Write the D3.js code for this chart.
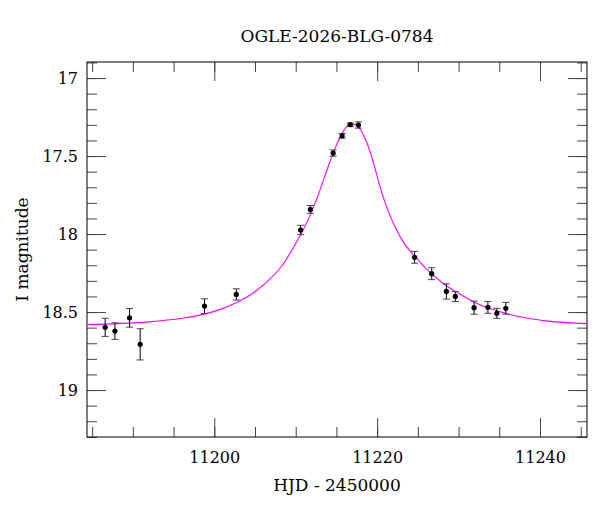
<!DOCTYPE html>
<html>
  <head>
    <meta charset="UTF-8">
    <script src="https://cdn.jsdelivr.net/npm/d3@7"></script>
    <title>OGLE-2026-BLG-0784</title>
    <style>
      body { margin: 0; background: #fff; }
      text { font-family: "DejaVu Serif", serif; fill: #000; }
    </style>
  </head>
  <body>
    <svg id="chart" width="600" height="512"></svg>
  <script>
      // photometry
      var hjd = [11186.6, 11187.8, 11189.6, 11190.9, 11198.8, 11202.7,
                 11210.6, 11211.8, 11214.6, 11215.7, 11216.7, 11217.7,
                 11224.6, 11226.7, 11228.5, 11229.6, 11231.9, 11233.6, 11234.7, 11235.8];
      var mag = [18.598, 18.622, 18.537, 18.707, 18.462, 18.387,
                 17.974, 17.842, 17.481, 17.370, 17.299, 17.301,
                 18.149, 18.254, 18.368, 18.400, 18.472, 18.470, 18.508, 18.476];
      var magErr = [0.058, 0.053, 0.060, 0.100, 0.047, 0.036,
                    0.030, 0.025, 0.020, 0.015, 0.010, 0.020,
                    0.038, 0.038, 0.049, 0.032, 0.042, 0.038, 0.032, 0.038];

      // model curve
      var modelT = [11184.4, 11188, 11192, 11196, 11199, 11201, 11203, 11205,
                    11207, 11208.5, 11210, 11211, 11212, 11213, 11214, 11215,
                    11215.8, 11216.4, 11216.9, 11217.4, 11218, 11218.7, 11219.5, 11220.4,
                    11221.3, 11222.3, 11223.3, 11224.5, 11226, 11228, 11230, 11232,
                    11234.7, 11238, 11241, 11245.8];
      var modelMag = [18.580, 18.574, 18.563, 18.540, 18.510, 18.478, 18.433, 18.370,
                      18.280, 18.190, 18.060, 17.965, 17.850, 17.715, 17.565, 17.430,
                      17.345, 17.305, 17.295, 17.300, 17.335, 17.410, 17.535, 17.705,
                      17.845, 17.965, 18.060, 18.135, 18.220, 18.312, 18.380, 18.438,
                      18.492, 18.535, 18.558, 18.574];

      var xMajor = [11200, 11220, 11240];
      var xMinor = d3.range(11185, 11246, 5);
      var yMajor = [17, 17.5, 18, 18.5, 19];
      var yMinor = d3.range(16.9, 19.31, 0.1).map(function(d){ return +d.toFixed(1); });

      var pL = 87, pR = 587, pT = 62, pB = 437;
      var svg = d3.select("#chart");

      var x = d3.scaleLinear().domain([11184.37, 11245.77]).range([pL, pR]);
      var y = d3.scaleLinear().domain([16.897, 19.301]).range([pT, pB]);

      function styleTicks(g, col){
          g.select(".domain").remove();
          g.selectAll(".tick line").attr("stroke", col);
          g.selectAll(".tick text").style("font-size", "16px").style("font-family", "DejaVu Serif, serif");
      }

      // bottom
      svg.append("g").attr("transform", "translate(0," + pB + ")")
         .call(d3.axisBottom(x).tickValues(xMinor).tickSize(-10).tickFormat(""))
         .call(styleTicks, "#444");
      svg.append("g").attr("transform", "translate(0," + pB + ")")
         .call(d3.axisBottom(x).tickValues(xMajor).tickSize(-19).tickPadding(15).tickFormat(d3.format("d")))
         .call(styleTicks, "#444");
      // top
      svg.append("g").attr("transform", "translate(0," + pT + ")")
         .call(d3.axisTop(x).tickValues(xMinor).tickSize(-10).tickFormat(""))
         .call(styleTicks, "#444");
      svg.append("g").attr("transform", "translate(0," + pT + ")")
         .call(d3.axisTop(x).tickValues(xMajor).tickSize(-19).tickFormat(""))
         .call(styleTicks, "#444");
      // left
      svg.append("g").attr("transform", "translate(" + pL + ",0)")
         .call(d3.axisLeft(y).tickValues(yMinor).tickSize(-10).tickFormat(""))
         .call(styleTicks, "#444");
      svg.append("g").attr("transform", "translate(" + pL + ",0)")
         .call(d3.axisLeft(y).tickValues(yMajor).tickSize(-19).tickPadding(9).tickFormat(function(d){ return d; }))
         .call(styleTicks, "#444");
      // right
      svg.append("g").attr("transform", "translate(" + pR + ",0)")
         .call(d3.axisRight(y).tickValues(yMinor).tickSize(-10).tickFormat(""))
         .call(styleTicks, "#444");
      svg.append("g").attr("transform", "translate(" + pR + ",0)")
         .call(d3.axisRight(y).tickValues(yMajor).tickSize(-19).tickFormat(""))
         .call(styleTicks, "#444");

      // frame
      svg.append("rect")
         .attr("x", pL).attr("y", pT)
         .attr("width", pR - pL).attr("height", pB - pT)
         .attr("fill", "none").attr("stroke", "#000").attr("stroke-width", 1);

      // model
      var model = modelT.map(function(t, i){ return [t, modelMag[i]]; });
      var line = d3.line()
                   .x(function(d){ return x(d[0]); })
                   .y(function(d){ return y(d[1]); })
                   .curve(d3.curveMonotoneX);
      svg.append("path").datum(model)
         .attr("d", line)
         .attr("fill", "none")
         .attr("stroke", "#ff00ff")
         .attr("stroke-width", 1.1);

      // data with error bars
      var pts = hjd.map(function(t, i){ return {t: t, m: mag[i], e: magErr[i]}; });
      var eb = svg.append("g").selectAll("g").data(pts).enter().append("g");
      eb.append("line")
        .attr("x1", function(d){ return x(d.t); }).attr("x2", function(d){ return x(d.t); })
        .attr("y1", function(d){ return y(d.m - d.e); }).attr("y2", function(d){ return y(d.m + d.e); })
        .attr("stroke", "#000").attr("stroke-width", 1);
      [-1, 1].forEach(function(s){
          eb.append("line")
            .attr("x1", function(d){ return x(d.t) - 3.5; }).attr("x2", function(d){ return x(d.t) + 3.5; })
            .attr("y1", function(d){ return y(d.m + s * d.e); }).attr("y2", function(d){ return y(d.m + s * d.e); })
            .attr("stroke", "#444").attr("stroke-width", 1);
      });
      eb.append("circle")
        .attr("cx", function(d){ return x(d.t); })
        .attr("cy", function(d){ return y(d.m); })
        .attr("r", 2.6)
        .attr("fill", "#000");

      // titles
      svg.append("text")
         .attr("x", (pL + pR) / 2).attr("y", 42)
         .attr("text-anchor", "middle")
         .style("font-size", "17px")
         .text("OGLE-2026-BLG-0784");
      svg.append("text")
         .attr("x", (pL + pR) / 2).attr("y", 491)
         .attr("text-anchor", "middle")
         .style("font-size", "17px")
         .text("HJD - 2450000");
      svg.append("text")
         .attr("transform", "translate(28," + ((pT + pB) / 2) + ") rotate(-90)")
         .attr("text-anchor", "middle")
         .style("font-size", "17px")
         .text("I magnitude");
  </script>
  </body>
</html>
